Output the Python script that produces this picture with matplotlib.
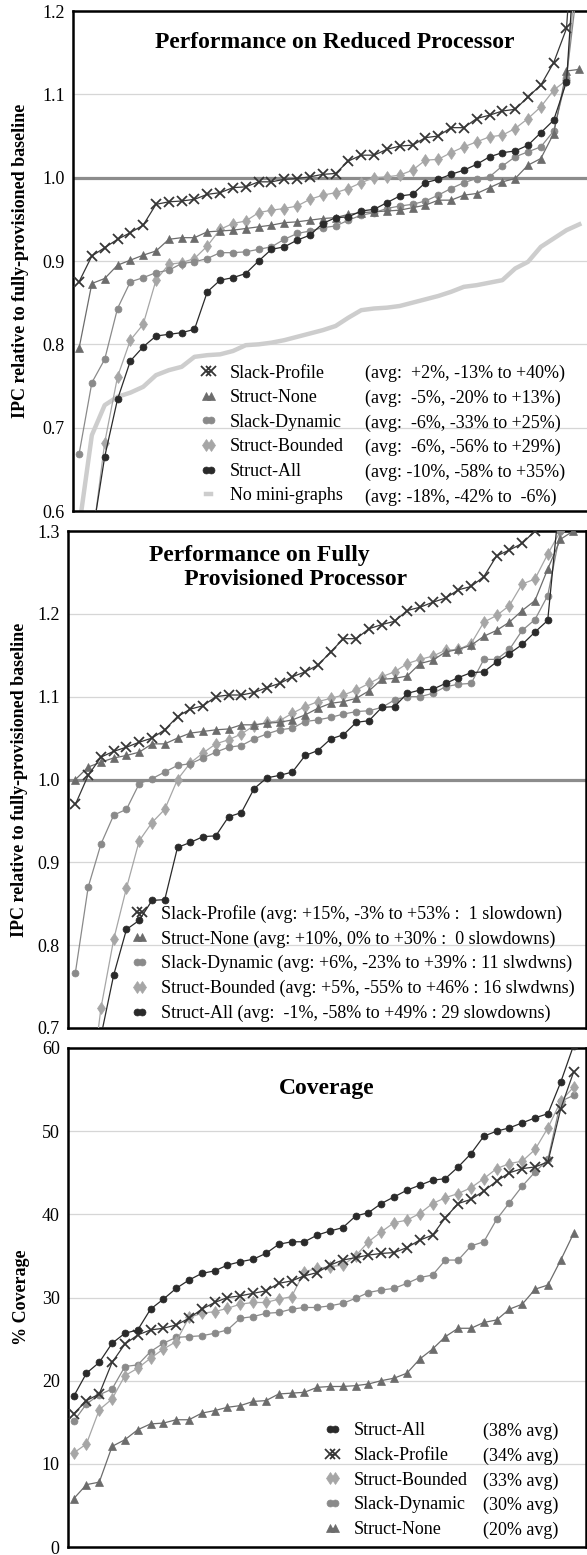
import numpy as np
import matplotlib.pyplot as plt
from matplotlib.lines import Line2D

plt.rcParams['font.family'] = ['Liberation Serif', 'DejaVu Serif']

bench = np.arange(40)

# ---- Performance on reduced processor (IPC relative to baseline), each series sorted
red_slack_profile = [0.875, 0.906, 0.916, 0.926, 0.934, 0.943, 0.968, 0.971, 0.972, 0.974,
                     0.980, 0.982, 0.988, 0.989, 0.995, 0.995, 0.998, 0.999, 1.001, 1.004,
                     1.005, 1.020, 1.027, 1.027, 1.034, 1.038, 1.039, 1.048, 1.050, 1.060,
                     1.060, 1.071, 1.075, 1.080, 1.082, 1.097, 1.111, 1.138, 1.179, 1.40]
red_struct_none = [0.795, 0.873, 0.879, 0.895, 0.901, 0.907, 0.912, 0.926, 0.928, 0.928,
                   0.935, 0.936, 0.937, 0.939, 0.941, 0.943, 0.946, 0.947, 0.949, 0.951,
                   0.952, 0.956, 0.958, 0.959, 0.960, 0.961, 0.964, 0.967, 0.973, 0.973,
                   0.979, 0.981, 0.988, 0.995, 0.999, 1.015, 1.023, 1.053, 1.128, 1.13]
red_slack_dynamic = [0.668, 0.754, 0.782, 0.843, 0.875, 0.880, 0.886, 0.889, 0.897, 0.899,
                     0.903, 0.910, 0.910, 0.911, 0.914, 0.917, 0.926, 0.933, 0.936, 0.940,
                     0.942, 0.949, 0.955, 0.958, 0.963, 0.966, 0.968, 0.972, 0.979, 0.987,
                     0.994, 0.999, 1.001, 1.014, 1.025, 1.031, 1.037, 1.056, 1.120, 1.25]
red_struct_bounded = [0.44, 0.56, 0.682, 0.761, 0.805, 0.824, 0.877, 0.896, 0.898, 0.903,
                      0.918, 0.938, 0.945, 0.948, 0.958, 0.961, 0.963, 0.966, 0.974, 0.979,
                      0.982, 0.987, 0.994, 1.000, 1.001, 1.003, 1.009, 1.021, 1.022, 1.030,
                      1.037, 1.043, 1.049, 1.051, 1.059, 1.071, 1.085, 1.105, 1.117, 1.29]
red_struct_all = [0.42, 0.567, 0.665, 0.734, 0.780, 0.797, 0.810, 0.812, 0.814, 0.818,
                  0.863, 0.877, 0.880, 0.885, 0.900, 0.914, 0.917, 0.925, 0.931, 0.945,
                  0.952, 0.953, 0.960, 0.962, 0.970, 0.978, 0.980, 0.994, 0.998, 1.004,
                  1.009, 1.016, 1.025, 1.030, 1.032, 1.039, 1.054, 1.069, 1.115, 1.35]
red_no_minigraphs = [0.58, 0.691, 0.727, 0.737, 0.742, 0.749, 0.763, 0.769, 0.773, 0.785,
                     0.787, 0.788, 0.792, 0.799, 0.800, 0.802, 0.805, 0.809, 0.813, 0.817,
                     0.822, 0.832, 0.841, 0.843, 0.844, 0.846, 0.850, 0.854, 0.858, 0.863,
                     0.869, 0.871, 0.874, 0.877, 0.891, 0.899, 0.917, 0.927, 0.937, 0.944]
red_notes = ['(avg:  +2%, -13% to +40%)', '(avg:  -5%, -20% to +13%)',
             '(avg:  -6%, -33% to +25%)', '(avg:  -6%, -56% to +29%)',
             '(avg: -10%, -58% to +35%)', '(avg: -18%, -42% to  -6%)']

# ---- Performance on fully provisioned processor
full_slack_profile = [0.970, 1.005, 1.027, 1.034, 1.039, 1.045, 1.050, 1.060, 1.076, 1.085,
                      1.089, 1.100, 1.102, 1.102, 1.105, 1.111, 1.116, 1.124, 1.130, 1.138,
                      1.154, 1.170, 1.170, 1.182, 1.187, 1.191, 1.204, 1.208, 1.214, 1.219,
                      1.229, 1.233, 1.245, 1.270, 1.277, 1.285, 1.300, 1.33, 1.40, 1.53]
full_struct_none = [1.000, 1.015, 1.021, 1.026, 1.029, 1.033, 1.043, 1.043, 1.050, 1.056,
                    1.058, 1.060, 1.061, 1.066, 1.066, 1.068, 1.069, 1.072, 1.078, 1.086,
                    1.092, 1.094, 1.098, 1.107, 1.121, 1.122, 1.125, 1.140, 1.144, 1.154,
                    1.157, 1.162, 1.173, 1.180, 1.190, 1.204, 1.216, 1.254, 1.29, 1.30]
full_slack_dynamic = [0.767, 0.870, 0.922, 0.957, 0.964, 0.995, 1.001, 1.009, 1.017, 1.019,
                      1.026, 1.033, 1.039, 1.041, 1.049, 1.055, 1.060, 1.062, 1.070, 1.072,
                      1.075, 1.079, 1.082, 1.083, 1.087, 1.096, 1.100, 1.100, 1.104, 1.112,
                      1.115, 1.116, 1.145, 1.145, 1.157, 1.180, 1.193, 1.222, 1.30, 1.39]
full_struct_bounded = [0.45, 0.60, 0.724, 0.807, 0.869, 0.926, 0.948, 0.964, 1.000, 1.020,
                       1.032, 1.043, 1.048, 1.055, 1.065, 1.069, 1.071, 1.080, 1.088, 1.094,
                       1.098, 1.102, 1.108, 1.116, 1.124, 1.130, 1.140, 1.145, 1.149, 1.156,
                       1.157, 1.164, 1.190, 1.198, 1.210, 1.236, 1.242, 1.272, 1.30, 1.46]
full_struct_all = [0.42, 0.55, 0.69, 0.764, 0.819, 0.830, 0.854, 0.855, 0.918, 0.924,
                   0.931, 0.932, 0.955, 0.960, 0.989, 1.002, 1.005, 1.009, 1.029, 1.035,
                   1.049, 1.054, 1.069, 1.071, 1.087, 1.088, 1.104, 1.108, 1.109, 1.116,
                   1.123, 1.129, 1.130, 1.142, 1.152, 1.163, 1.178, 1.192, 1.35, 1.49]
full_labels = ['Slack-Profile (avg: +15%, -3% to +53% :  1 slowdown)',
               'Struct-None (avg: +10%, 0% to +30% :  0 slowdowns)',
               'Slack-Dynamic (avg: +6%, -23% to +39% : 11 slwdwns)',
               'Struct-Bounded (avg: +5%, -55% to +46% : 16 slwdwns)',
               'Struct-All (avg:  -1%, -58% to +49% : 29 slowdowns)']

# ---- Coverage (%)
cov_struct_all = [18.1, 20.9, 22.2, 24.5, 25.7, 26.1, 28.6, 29.8, 31.1, 32.1,
                  32.9, 33.2, 33.9, 34.3, 34.6, 35.3, 36.4, 36.7, 36.7, 37.5,
                  38.0, 38.4, 39.8, 40.2, 41.3, 42.1, 42.9, 43.5, 44.1, 44.3,
                  45.7, 47.3, 49.4, 50.0, 50.4, 51.0, 51.6, 52.1, 55.9, 60.3]
cov_slack_profile = [16.0, 17.6, 18.4, 22.2, 24.4, 25.5, 26.1, 26.3, 26.7, 27.5,
                     28.6, 29.4, 30.0, 30.2, 30.5, 30.8, 31.7, 32.0, 32.6, 33.0,
                     33.9, 34.5, 34.8, 35.1, 35.3, 35.4, 36.0, 36.9, 37.5, 39.6,
                     41.3, 41.8, 42.8, 44.0, 45.0, 45.5, 45.7, 46.3, 52.7, 57.1]
cov_struct_bounded = [11.3, 12.4, 16.5, 17.8, 20.6, 21.5, 22.7, 23.8, 24.7, 27.6,
                      28.1, 28.3, 28.7, 29.2, 29.4, 29.4, 29.8, 30.1, 33.1, 33.5,
                      33.7, 33.9, 35.0, 36.7, 37.9, 39.0, 39.3, 40.1, 41.3, 42.0,
                      42.5, 43.2, 44.3, 45.5, 46.1, 46.4, 47.8, 50.4, 53.6, 55.3]
cov_slack_dynamic = [15.1, 17.2, 18.3, 19.0, 21.7, 21.9, 23.5, 24.5, 25.2, 25.3,
                     25.4, 25.7, 26.1, 27.5, 27.7, 28.1, 28.2, 28.6, 28.8, 28.8,
                     29.0, 29.3, 29.9, 30.6, 30.9, 31.1, 31.7, 32.4, 32.7, 34.5,
                     34.5, 36.2, 36.7, 39.4, 41.4, 43.4, 45.1, 46.6, 53.6, 54.3]
cov_struct_none = [5.8, 7.5, 7.8, 12.1, 12.9, 14.1, 14.8, 14.9, 15.3, 15.3,
                   16.1, 16.4, 16.8, 17.0, 17.5, 17.6, 18.4, 18.5, 18.6, 19.2,
                   19.3, 19.3, 19.4, 19.6, 20.0, 20.3, 20.9, 22.6, 23.8, 25.3,
                   26.3, 26.3, 27.0, 27.3, 28.6, 29.2, 31.0, 31.5, 34.5, 37.7]
cov_notes = ['(38% avg)', '(34% avg)', '(33% avg)', '(30% avg)', '(20% avg)']

# series styles
STY = {
    'Slack-Profile': dict(color='#363636', marker='x', ms=6.5, mew=1.3),
    'Struct-None': dict(color='#6c6c6c', marker='^', ms=5.5, mew=0.5),
    'Slack-Dynamic': dict(color='#8a8a8a', marker='o', ms=5, mew=0.5),
    'Struct-Bounded': dict(color='#a6a6a6', marker='d', ms=6.5, mew=0.5),
    'Struct-All': dict(color='#2a2a2a', marker='o', ms=5, mew=0.5),
}

W, H = 587, 1555
fig = plt.figure(figsize=(W / 100, H / 100), dpi=100)


def axes_px(left, top, right, bottom):
    return fig.add_axes([left / W, 1 - bottom / H, (right - left) / W, (bottom - top) / H])


def style_axes(ax, ylim, yticks, fmt, xlim):
    ax.set_xlim(*xlim)
    ax.set_ylim(*ylim)
    ax.set_yticks(yticks)
    ax.set_yticklabels([fmt % t for t in yticks], fontsize=13)
    ax.set_xticks([])
    ax.tick_params(axis='y', length=0, pad=6)
    ax.grid(axis='y', color='#d6d6d6', lw=0.9)
    ax.set_axisbelow(True)
    for s in ax.spines.values():
        s.set_linewidth(1.8)
        s.set_color('black')


def draw(ax, name, vals, z):
    st = STY[name]
    ln, = ax.plot(bench, vals, lw=0.9, color=st['color'], marker=st['marker'],
                  ms=st['ms'], mew=st['mew'], mfc=st['color'], mec=st['color'],
                  label=name, zorder=z)
    return ln


leg_kw = dict(frameon=False, fontsize=13, borderpad=0, borderaxespad=0, labelspacing=0.42,
              handlelength=0.9, handletextpad=0.75, numpoints=2, loc='upper left')
note_kw = {**leg_kw, 'handlelength': 0, 'handletextpad': 0}
title_kw = dict(fontsize=17, fontweight='bold', va='center')

# ---------------- panel 1
ax1 = axes_px(73, 11, 596, 511)
style_axes(ax1, (0.6, 1.2), np.round(np.arange(0.6, 1.21, 0.1), 1), '%.1f', (-0.47, 40.3))
ax1.axhline(1.0, color='#8c8c8c', lw=2.3, zorder=1.5)
nm, = ax1.plot(bench, red_no_minigraphs, color='#cdcdcd', lw=3.2, label='No mini-graphs', zorder=2)
h_sb = draw(ax1, 'Struct-Bounded', red_struct_bounded, 3)
h_sd = draw(ax1, 'Slack-Dynamic', red_slack_dynamic, 4)
h_sn = draw(ax1, 'Struct-None', red_struct_none, 5)
h_sa = draw(ax1, 'Struct-All', red_struct_all, 6)
h_sp = draw(ax1, 'Slack-Profile', red_slack_profile, 7)
ax1.text(0.5, 0.936, 'Performance on Reduced Processor', transform=ax1.transAxes,
         ha='center', **title_kw)
ax1.set_ylabel('IPC relative to fully-provisioned baseline', fontsize=13, fontweight='bold')
ax1.yaxis.set_label_coords(-0.084, 0.5)
hs = [h_sp, h_sn, h_sd, h_sb, h_sa, nm]
lg = ax1.legend(hs, [h.get_label() for h in hs], bbox_to_anchor=(0.243, 0.293), **leg_kw)
ax1.add_artist(lg)
ax1.legend([Line2D([], [], ls='none') for _ in red_notes], red_notes,
           bbox_to_anchor=(0.559, 0.293), **note_kw)

# ---------------- panel 2
ax2 = axes_px(68, 531, 586, 1028)
style_axes(ax2, (0.7, 1.3), np.round(np.arange(0.7, 1.31, 0.1), 1), '%.1f', (-0.58, 40.0))
ax2.axhline(1.0, color='#8c8c8c', lw=2.3, zorder=1.5)
g_sb = draw(ax2, 'Struct-Bounded', full_struct_bounded, 3)
g_sd = draw(ax2, 'Slack-Dynamic', full_slack_dynamic, 4)
g_sn = draw(ax2, 'Struct-None', full_struct_none, 5)
g_sa = draw(ax2, 'Struct-All', full_struct_all, 6)
g_sp = draw(ax2, 'Slack-Profile', full_slack_profile, 7)
ax2.text(0.156, 0.9266, 'Performance on Fully\n      Provisioned Processor', transform=ax2.transAxes,
         ha='left', linespacing=1.18, **title_kw)
ax2.set_ylabel('IPC relative to fully-provisioned baseline', fontsize=13, fontweight='bold')
ax2.yaxis.set_label_coords(-0.077, 0.5)
ax2.legend([g_sp, g_sn, g_sd, g_sb, g_sa], full_labels, bbox_to_anchor=(0.122, 0.248), **leg_kw)

# ---------------- panel 3
ax3 = axes_px(68, 1048, 586, 1547)
style_axes(ax3, (0, 60), np.arange(0, 61, 10), '%d', (-0.44, 39.97))
c_sn = draw(ax3, 'Struct-None', cov_struct_none, 3)
c_sd = draw(ax3, 'Slack-Dynamic', cov_slack_dynamic, 4)
c_sb = draw(ax3, 'Struct-Bounded', cov_struct_bounded, 5)
c_sp = draw(ax3, 'Slack-Profile', cov_slack_profile, 6)
c_sa = draw(ax3, 'Struct-All', cov_struct_all, 7)
ax3.text(0.5, 0.918, 'Coverage', transform=ax3.transAxes, ha='center', **title_kw)
ax3.set_ylabel('% Coverage', fontsize=13, fontweight='bold')
ax3.yaxis.set_label_coords(-0.073, 0.5)
hs3 = [c_sa, c_sp, c_sb, c_sd, c_sn]
lg3 = ax3.legend(hs3, [h.get_label() for h in hs3], bbox_to_anchor=(0.495, 0.2495), **leg_kw)
ax3.add_artist(lg3)
ax3.legend([Line2D([], [], ls='none') for _ in cov_notes], cov_notes,
           bbox_to_anchor=(0.802, 0.2495), **note_kw)

fig.savefig('out.png', dpi=100)
